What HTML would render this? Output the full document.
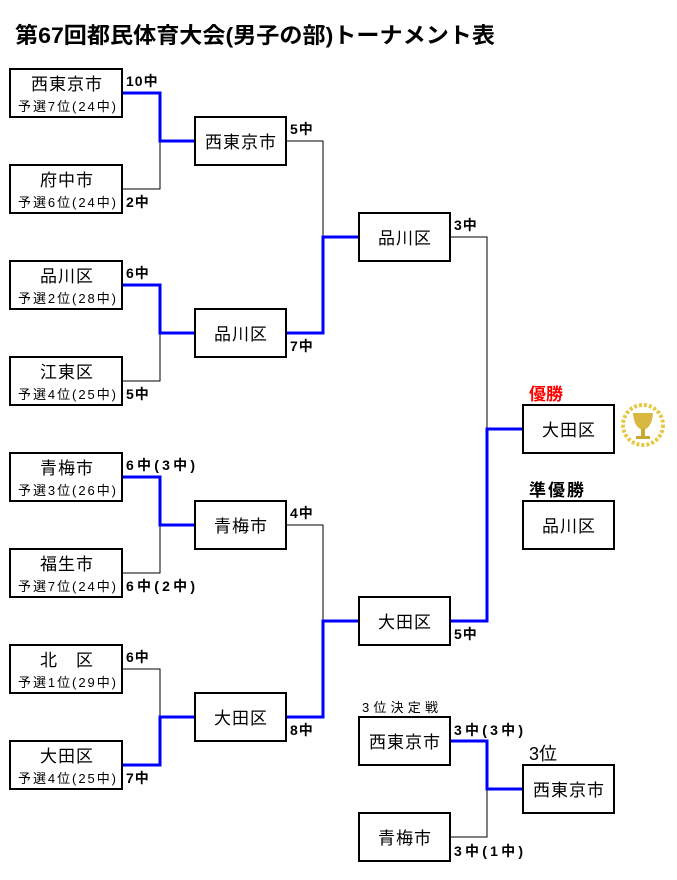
<!DOCTYPE html>
<html><head><meta charset="utf-8"><style>
html,body{margin:0;padding:0;background:#fff;width:677px;height:880px;overflow:hidden}
svg text{font-family:"Liberation Sans","Noto Sans CJK JP",sans-serif}
</style></head><body>
<svg width="677" height="880" viewBox="0 0 677 880" xmlns="http://www.w3.org/2000/svg">
<text x="15" y="43" font-size="22" font-weight="bold" textLength="480" lengthAdjust="spacingAndGlyphs">第67回都民体育大会(男子の部)トーナメント表</text>
<g fill="none" stroke="#000" stroke-width="1">
<polyline points="122,189 160,189 160,141"/>
<polyline points="122,381 160,381 160,333"/>
<polyline points="122,573 160,573 160,525"/>
<polyline points="122,669 160,669 160,717"/>
<polyline points="286,141 323,141 323,237"/>
<polyline points="286,525 323,525 323,621"/>
<polyline points="450,237 487,237 487,429"/>
<polyline points="450,837 487,837 487,789"/>
</g>
<g fill="none" stroke="#0000ff" stroke-width="3">
<polyline points="122,93 160,93 160,141 195,141"/>
<polyline points="122,285 160,285 160,333 195,333"/>
<polyline points="122,477 160,477 160,525 195,525"/>
<polyline points="122,765 160,765 160,717 195,717"/>
<polyline points="286,333 323,333 323,237 359,237"/>
<polyline points="286,717 323,717 323,621 359,621"/>
<polyline points="450,621 487,621 487,429 523,429"/>
<polyline points="450,741 487,741 487,789 523,789"/>
</g>
<g fill="#fff" stroke="#000" stroke-width="2">
<rect x="10" y="69" width="112" height="48"/>
<rect x="10" y="165" width="112" height="48"/>
<rect x="10" y="261" width="112" height="48"/>
<rect x="10" y="357" width="112" height="48"/>
<rect x="10" y="453" width="112" height="48"/>
<rect x="10" y="549" width="112" height="48"/>
<rect x="10" y="645" width="112" height="48"/>
<rect x="10" y="741" width="112" height="48"/>
<rect x="195" y="117" width="91" height="48"/>
<rect x="195" y="309" width="91" height="48"/>
<rect x="195" y="501" width="91" height="48"/>
<rect x="195" y="693" width="91" height="48"/>
<rect x="359" y="213" width="91" height="48"/>
<rect x="359" y="597" width="91" height="48"/>
<rect x="523" y="405" width="91" height="48"/>
<rect x="523" y="501" width="91" height="48"/>
<rect x="359" y="717" width="91" height="48"/>
<rect x="359" y="813" width="91" height="48"/>
<rect x="523" y="765" width="91" height="48"/>
</g>
<g font-size="17" text-anchor="middle" letter-spacing="1">
<text x="67" y="90">西東京市</text>
<text x="67" y="186">府中市</text>
<text x="67" y="282">品川区</text>
<text x="67" y="378">江東区</text>
<text x="67" y="474">青梅市</text>
<text x="67" y="570">福生市</text>
<text x="67" y="666">北　区</text>
<text x="67" y="762">大田区</text>
<text x="241" y="148">西東京市</text>
<text x="241" y="340">品川区</text>
<text x="241" y="532">青梅市</text>
<text x="241" y="724">大田区</text>
<text x="405" y="244">品川区</text>
<text x="405" y="628">大田区</text>
<text x="569" y="436">大田区</text>
<text x="569" y="532">品川区</text>
<text x="405" y="748">西東京市</text>
<text x="405" y="844">青梅市</text>
<text x="569" y="796">西東京市</text>
</g>
<g font-size="13">
<text x="18" y="111" textLength="98">予選7位(24中)</text>
<text x="18" y="207" textLength="98">予選6位(24中)</text>
<text x="18" y="303" textLength="98">予選2位(28中)</text>
<text x="18" y="399" textLength="98">予選4位(25中)</text>
<text x="18" y="495" textLength="98">予選3位(26中)</text>
<text x="18" y="591" textLength="98">予選7位(24中)</text>
<text x="18" y="687" textLength="98">予選1位(29中)</text>
<text x="18" y="783" textLength="98">予選4位(25中)</text>
</g>
<g font-size="14" font-weight="bold" letter-spacing="1">
<text x="126" y="86">10中</text>
<text x="126" y="207">2中</text>
<text x="126" y="278">6中</text>
<text x="126" y="399">5中</text>
<text x="126" y="470" textLength="70">6中(3中)</text>
<text x="126" y="591" textLength="70">6中(2中)</text>
<text x="126" y="662">6中</text>
<text x="126" y="783">7中</text>
<text x="290" y="134">5中</text>
<text x="290" y="351">7中</text>
<text x="290" y="518">4中</text>
<text x="290" y="735">8中</text>
<text x="454" y="230">3中</text>
<text x="454" y="639">5中</text>
<text x="454" y="735" textLength="70">3中(3中)</text>
<text x="454" y="856" textLength="70">3中(1中)</text>
</g>
<text x="529" y="400" font-size="17" font-weight="bold" fill="#ff0000">優勝</text>
<text x="529" y="496" font-size="17" font-weight="bold" letter-spacing="2">準優勝</text>
<text x="529" y="760" font-size="18">3位</text>
<text x="362" y="712" font-size="13" textLength="76">3位決定戦</text>
<g>
<circle cx="643" cy="425" r="20" fill="none" stroke="#e8c840" stroke-width="4" stroke-dasharray="3 2"/>
<path d="M633,413 L653,413 Q652,428 643,430 Q634,428 633,413 Z" fill="#d8b840"/>
<rect x="641" y="429" width="4" height="7" fill="#c8a830"/>
<rect x="636" y="436" width="14" height="3" fill="#c8a830"/>
</g>
</svg>
</body></html>
